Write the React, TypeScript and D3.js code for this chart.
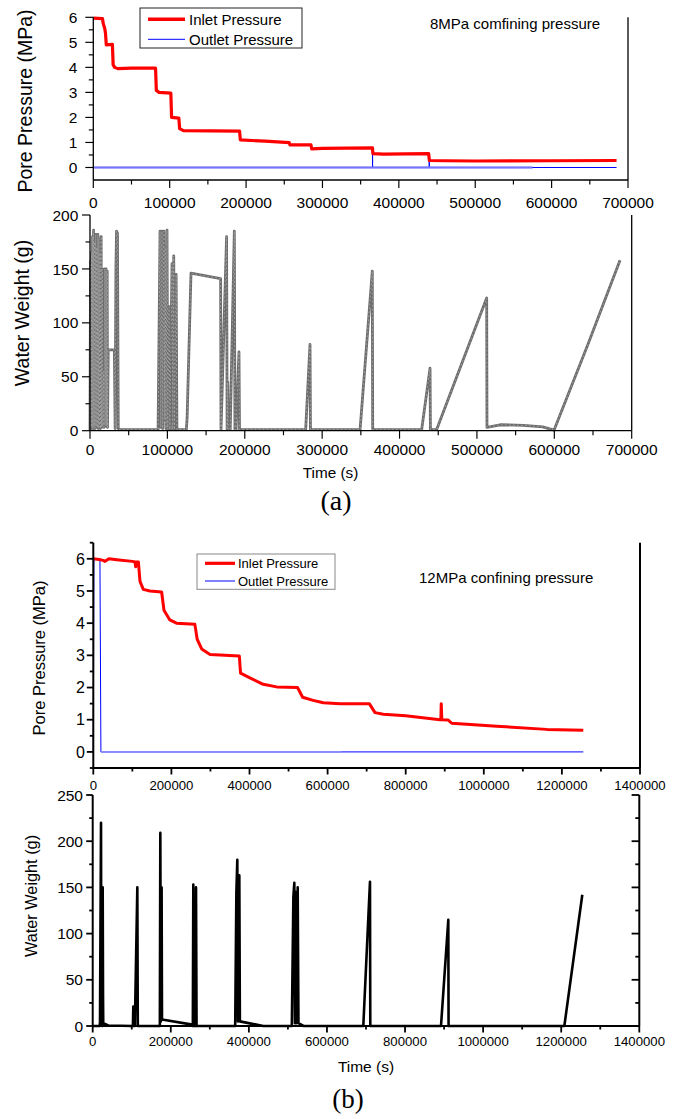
import React from "react";
import * as d3 from "d3";

// ---------------- DATA ----------------
// Panel (a): 8 MPa confining pressure
const aInlet: [number, number][] = [
  [0, 5.97], [12000, 5.95], [13000, 5.75], [15000, 5.55], [16000, 5.35], [17000, 4.9],
  [25000, 4.92], [26000, 4.1], [28000, 4.0], [32000, 3.95], [50000, 3.97], [81500, 3.97],
  [82500, 3.08], [86000, 3.0], [101500, 2.97], [102500, 2.0], [112000, 1.97], [113000, 1.55],
  [118000, 1.47], [191500, 1.45], [192500, 1.1], [225000, 1.05], [256500, 0.99], [257500, 0.9],
  [285000, 0.9], [286000, 0.74], [300000, 0.76], [365500, 0.78], [366000, 0.55], [380000, 0.53],
  [439000, 0.55], [440000, 0.28], [460000, 0.27], [500000, 0.26], [600000, 0.27], [685000, 0.28],
];
const aOutlet: [number, number][] = [
  [0, 0], [365500, 0], [365600, 0.78], [365700, 0], [439700, 0], [439800, 0.55], [439900, 0], [685000, 0],
];
const aOutletNoise: [number, number][] = [[0, 0], [575000, 0]];
const aWater: [number, number][] = [
  [0, 0], [700, 157], [1100, 2], [2000, 165], [2400, 3], [3300, 180], [3700, 2], [4600, 186], [5000, 3],
  [6000, 175], [6400, 2], [7400, 182], [7800, 4], [8800, 170], [9200, 3], [10200, 182], [10600, 2],
  [11600, 178], [12000, 3], [13000, 165], [13400, 2], [14400, 180], [14800, 3], [16000, 150], [16400, 4],
  [17500, 55], [18000, 3], [19200, 150], [19600, 5], [20800, 150], [21200, 4], [22200, 148], [22600, 3],
  [23500, 75], [31500, 75], [32500, 2], [33500, 150], [34300, 185], [35500, 183], [36500, 2], [38800, 1],
  [88000, 1], [90500, 185], [91500, 3], [93000, 185], [94000, 2], [95500, 185], [96500, 10], [97200, 170],
  [98200, 2], [99500, 186], [100500, 1], [102200, 115], [103200, 1], [106000, 155], [107000, 1],
  [108200, 162], [109200, 1], [111300, 145], [112300, 1], [124500, 1], [125500, 12], [130500, 146],
  [168800, 141], [169300, 1], [176500, 180], [177200, 1], [178000, 45], [178600, 1], [181200, 1],
  [186500, 185], [187300, 1], [188700, 1], [192500, 73], [193200, 1], [278700, 1], [284300, 80],
  [284900, 1], [349000, 1], [364800, 148], [365300, 1], [428600, 1], [439400, 58], [439900, 1],
  [448000, 1], [512600, 123], [513000, 3], [530000, 5.5], [560000, 5], [585000, 3.5], [599600, 0.5],
  [644000, 81], [684900, 158],
];

// Panel (b): 12 MPa confining pressure
const bInlet: [number, number][] = [
  [0, 6.0], [15000, 5.98], [25000, 5.95], [30000, 5.92], [40000, 6.0], [60000, 5.97], [100000, 5.92],
  [107000, 5.9], [108500, 5.75], [110000, 5.9], [115500, 5.9], [119600, 5.3], [128000, 5.05],
  [145000, 5.0], [175000, 4.97], [181000, 4.4], [196000, 4.1], [213000, 4.0], [260000, 3.97],
  [266000, 3.5], [277500, 3.2], [299000, 3.03], [374000, 2.98], [377000, 2.45], [401000, 2.3],
  [435000, 2.1], [469500, 2.02], [523000, 2.0], [536000, 1.7], [563000, 1.6], [589000, 1.53],
  [632000, 1.5], [706800, 1.5], [721400, 1.22], [742700, 1.17], [800000, 1.12], [887800, 1.0],
  [890000, 1.0], [891000, 1.5], [892500, 1.0], [909000, 0.99], [917800, 0.89], [1033000, 0.8],
  [1161000, 0.7], [1254800, 0.67],
];
const bOutlet: [number, number][] = [
  [0, 0], [1500, 6.0], [8000, 5.98], [17000, 5.95], [19500, 0], [1254800, 0],
];
const bOutletNoise: [number, number][] = [[19500, 0], [636000, 0]];
const bWater: [number, number][] = [
  [0, 0], [18000, 0], [18700, 5], [21300, 220], [22000, 2], [24500, 0], [25600, 150], [26500, 30],
  [27000, 3], [40000, 0.5], [103000, 0], [104000, 21], [105000, 0], [108000, 0], [114300, 150],
  [115500, 0], [172000, 0], [173200, 209], [174500, 5], [176500, 150], [177500, 7], [255000, 1.5],
  [256500, 0], [257700, 153], [259000, 0], [263000, 0], [264600, 150], [266000, 0], [365000, 0],
  [368000, 145], [370400, 180], [372000, 5], [375500, 163], [377000, 5], [437000, 0], [510000, 0],
  [514000, 140], [516400, 155], [518000, 3], [520000, 145], [522000, 3], [525000, 150], [527000, 3],
  [540000, 0], [693100, 0], [710200, 156], [711000, 0], [892100, 0], [910800, 115], [911500, 0],
  [1208000, 0], [1254000, 142],
];

const aTimeTicks = [0, 100000, 200000, 300000, 400000, 500000, 600000, 700000];
const aTimeMinor = [50000, 150000, 250000, 350000, 450000, 550000, 650000];
const aPressTicks = [0, 1, 2, 3, 4, 5, 6];
const aPressMinor = [-0.5, 0.5, 1.5, 2.5, 3.5, 4.5, 5.5];
const aWaterTicks = [0, 50, 100, 150, 200];
const aWaterMinor = [25, 75, 125, 175];
const bTimeTicks = [0, 200000, 400000, 600000, 800000, 1000000, 1200000, 1400000];
const bTimeMinor = [100000, 300000, 500000, 700000, 900000, 1100000, 1300000];
const bPressTicks = [0, 1, 2, 3, 4, 5, 6];
const bPressMinor = [-0.5, 0.5, 1.5, 2.5, 3.5, 4.5, 5.5, 6.5];
const bWaterTicks = [0, 50, 100, 150, 200, 250];
const bWaterMinor = [25, 75, 125, 175, 225];

const legendLabels = ["Inlet Pressure", "Outlet Pressure"];

// ---------------- HELPERS ----------------
const SANS = "'Liberation Sans', Arial, Helvetica, sans-serif";
const SERIF = "'Liberation Serif', 'Times New Roman', serif";

type Sc = d3.ScaleLinear<number, number>;

function BottomAxis(p: {
  x: Sc; y: number; ticks: number[]; minor: number[]; major: number; minorLen: number;
  font: number; off: number; sw: number;
}) {
  const [r0, r1] = p.x.range();
  return (
    <g>
      <line x1={r0} x2={r1} y1={p.y} y2={p.y} stroke="#000" strokeWidth={p.sw} />
      {p.ticks.map((t) => (
        <g key={"t" + t}>
          <line x1={p.x(t)} x2={p.x(t)} y1={p.y} y2={p.y + p.major} stroke="#000" strokeWidth={p.sw * 0.9} />
          <text x={p.x(t)} y={p.y + p.off} fontSize={p.font} textAnchor="middle" fontFamily={SANS}>{t}</text>
        </g>
      ))}
      {p.minor.map((t) => (
        <line key={"m" + t} x1={p.x(t)} x2={p.x(t)} y1={p.y} y2={p.y + p.minorLen} stroke="#000" strokeWidth={p.sw * 0.9} />
      ))}
    </g>
  );
}

function LeftAxis(p: {
  y: Sc; x: number; ticks: number[]; minor: number[]; major: number; minorLen: number;
  font: number; gap: number; sw: number;
}) {
  const [r0, r1] = p.y.range();
  return (
    <g>
      <line x1={p.x} x2={p.x} y1={r0} y2={r1} stroke="#000" strokeWidth={p.sw} />
      {p.ticks.map((t) => (
        <g key={"t" + t}>
          <line x1={p.x - p.major} x2={p.x} y1={p.y(t)} y2={p.y(t)} stroke="#000" strokeWidth={p.sw * 0.9} />
          <text x={p.x - p.gap} y={p.y(t) + p.font * 0.36} fontSize={p.font} textAnchor="end" fontFamily={SANS}>{t}</text>
        </g>
      ))}
      {p.minor.map((t) => (
        <line key={"m" + t} x1={p.x - p.minorLen} x2={p.x} y1={p.y(t)} y2={p.y(t)} stroke="#000" strokeWidth={p.sw * 0.9} />
      ))}
    </g>
  );
}

function RightAxis(p: { y: Sc; x: number; ticks?: number[]; minor?: number[]; major?: number; minorLen?: number; sw: number }) {
  const [r0, r1] = p.y.range();
  return (
    <g>
      <line x1={p.x} x2={p.x} y1={r0} y2={r1} stroke="#000" strokeWidth={p.sw} />
      {(p.ticks || []).map((t) => (
        <line key={"t" + t} x1={p.x - (p.major || 0)} x2={p.x} y1={p.y(t)} y2={p.y(t)} stroke="#000" strokeWidth={p.sw * 0.9} />
      ))}
      {(p.minor || []).map((t) => (
        <line key={"m" + t} x1={p.x - (p.minorLen || 0)} x2={p.x} y1={p.y(t)} y2={p.y(t)} stroke="#000" strokeWidth={p.sw * 0.9} />
      ))}
    </g>
  );
}

function mkLine(x: Sc, y: Sc) {
  return d3.line<[number, number]>().x((d) => x(d[0])).y((d) => y(d[1]));
}

export default function App() {
  // ---- panel (a) top ----
  const aX1 = d3.scaleLinear().domain([0, 700000]).range([93.3, 628]);
  const aY1 = d3.scaleLinear().domain([-0.5, 6]).range([180, 17.3]);
  // ---- panel (a) bottom ----
  const aX2 = d3.scaleLinear().domain([0, 700000]).range([90, 631.7]);
  const aY2 = d3.scaleLinear().domain([0, 200]).range([430.7, 215]);
  // ---- panel (b) top ----
  const bX1 = d3.scaleLinear().domain([0, 1400000]).range([93.3, 640]);
  const bY1 = d3.scaleLinear().domain([-0.5, 6.5]).range([768, 542.7]);
  // ---- panel (b) bottom ----
  const bX2 = d3.scaleLinear().domain([0, 1400000]).range([92.7, 639.3]);
  const bY2 = d3.scaleLinear().domain([0, 250]).range([1026, 795]);

  const la1 = mkLine(aX1, aY1);
  const la2 = mkLine(aX2, aY2);
  const lb1 = mkLine(bX1, bY1);
  const lb2 = mkLine(bX2, bY2);

  return (
    <svg width={676} height={1119} style={{ position: "absolute", left: 0, top: 0, background: "#fff" }}
      fontFamily={SANS}>
      <rect x={0} y={0} width={676} height={1119} fill="#fff" />

      {/* ================= (a) top: pore pressure ================= */}
      <path d={la1(aOutletNoise) || ""} fill="none" stroke="#8a8aff" strokeWidth={2.2} />
      <path d={la1(aOutlet) || ""} fill="none" stroke="#0000ff" strokeWidth={1} />
      <path d={la1(aInlet) || ""} fill="none" stroke="#ff0000" strokeWidth={3.2} strokeLinejoin="round" />
      <path d={la1(aOutletNoise) || ""} fill="none" stroke="#8a8aff" strokeWidth={2} opacity={0.85} />
      <BottomAxis x={aX1} y={180} ticks={aTimeTicks} minor={aTimeMinor} major={8} minorLen={4.5} font={15.5} off={28} sw={1.3} />
      <LeftAxis y={aY1} x={93.3} ticks={aPressTicks} minor={aPressMinor.filter((v) => v > -0.5)} major={8} minorLen={4.5} font={15.5} gap={16} sw={1.3} />
      <RightAxis y={aY1} x={628} sw={1.3} />
      <text transform="translate(32,101) rotate(-90)" textAnchor="middle" fontSize={19.5} fontFamily={SANS}>Pore Pressure (MPa)</text>
      {/* legend (a) */}
      <rect x={140} y={8} width={162} height={40} fill="#fff" stroke="#222" strokeWidth={1} />
      <line x1={148} x2={185} y1={19.3} y2={19.3} stroke="#ff0000" strokeWidth={3.5} />
      <text x={189} y={24.6} fontSize={15} fontFamily={SANS}>{legendLabels[0]}</text>
      <line x1={148} x2={185} y1={39.3} y2={39.3} stroke="#0000ff" strokeWidth={1} />
      <text x={189} y={44.6} fontSize={15} fontFamily={SANS}>{legendLabels[1]}</text>
      <text x={430} y={29} fontSize={15} fontFamily={SANS}>8MPa comfining pressure</text>

      {/* ================= (a) bottom: water weight ================= */}
      <path d={la2(aWater) || ""} fill="none" stroke="#6c6c6c" strokeWidth={2.8} strokeLinejoin="round" />
      <path d={la2(aWater) || ""} fill="none" stroke="#a8a8a8" strokeWidth={0.8} strokeDasharray="2 2" />
      <BottomAxis x={aX2} y={430.7} ticks={aTimeTicks} minor={aTimeMinor} major={8} minorLen={4.5} font={15.5} off={24.5} sw={1.3} />
      <LeftAxis y={aY2} x={90} ticks={aWaterTicks} minor={aWaterMinor} major={8} minorLen={4.5} font={15.5} gap={11.7} sw={1.3} />
      <RightAxis y={aY2} x={631.7} sw={1.3} />
      <text transform="translate(29,313) rotate(-90)" textAnchor="middle" fontSize={19.5} fontFamily={SANS}>Water Weight (g)</text>
      <text x={330.5} y={478} textAnchor="middle" fontSize={15.3} fontFamily={SANS}>Time (s)</text>
      <text x={336} y={510} textAnchor="middle" fontSize={28} fontFamily={SERIF}>(a)</text>

      {/* ================= (b) top: pore pressure ================= */}
      <path d={lb1(bOutlet) || ""} fill="none" stroke="#0000ff" strokeWidth={1} />
      <path d={lb1(bOutletNoise) || ""} fill="none" stroke="#8a8aff" strokeWidth={1.6} />
      <path d={lb1(bInlet) || ""} fill="none" stroke="#ff0000" strokeWidth={3} strokeLinejoin="round" />
      <BottomAxis x={bX1} y={768} ticks={bTimeTicks} minor={bTimeMinor} major={6.5} minorLen={3.5} font={13.2} off={22} sw={2} />
      <LeftAxis y={bY1} x={93.3} ticks={bPressTicks} minor={bPressMinor} major={6.5} minorLen={3.5} font={16} gap={8.3} sw={2} />
      <RightAxis y={bY1} x={640} sw={2} />
      <text transform="translate(45,658) rotate(-90)" textAnchor="middle" fontSize={16.5} fontFamily={SANS}>Pore Pressure (MPa)</text>
      {/* legend (b) */}
      <rect x={197} y={554} width={138} height={35.3} fill="#fff" stroke="#888" strokeWidth={1} />
      <line x1={205} x2={235} y1={563.3} y2={563.3} stroke="#ff0000" strokeWidth={3.2} />
      <text x={238} y={568} fontSize={13} fontFamily={SANS}>{legendLabels[0]}</text>
      <line x1={205} x2={235} y1={581} y2={581} stroke="#0000ff" strokeWidth={1} />
      <text x={238} y={585.7} fontSize={13} fontFamily={SANS}>{legendLabels[1]}</text>
      <text x={419} y={583.4} fontSize={15} fontFamily={SANS}>12MPa confining pressure</text>

      {/* ================= (b) bottom: water weight ================= */}
      <path d={lb2(bWater) || ""} fill="none" stroke="#000" strokeWidth={2.6} strokeLinejoin="round" />
      <BottomAxis x={bX2} y={1026} ticks={bTimeTicks} minor={bTimeMinor} major={6.5} minorLen={3.5} font={13.2} off={20} sw={2} />
      <LeftAxis y={bY2} x={92.7} ticks={bWaterTicks} minor={bWaterMinor} major={6.5} minorLen={3.5} font={15.5} gap={9.7} sw={2} />
      <RightAxis y={bY2} x={639.3} ticks={bWaterTicks} minor={bWaterMinor} major={7.7} minorLen={4} sw={2} />
      <text transform="translate(36.6,896) rotate(-90)" textAnchor="middle" fontSize={16.3} fontFamily={SANS}>Water Weight (g)</text>
      <text x={366} y={1072} textAnchor="middle" fontSize={15.5} fontFamily={SANS}>Time (s)</text>
      <text x={348} y={1108} textAnchor="middle" fontSize={27} fontFamily={SERIF}>(b)</text>
    </svg>
  );
}
